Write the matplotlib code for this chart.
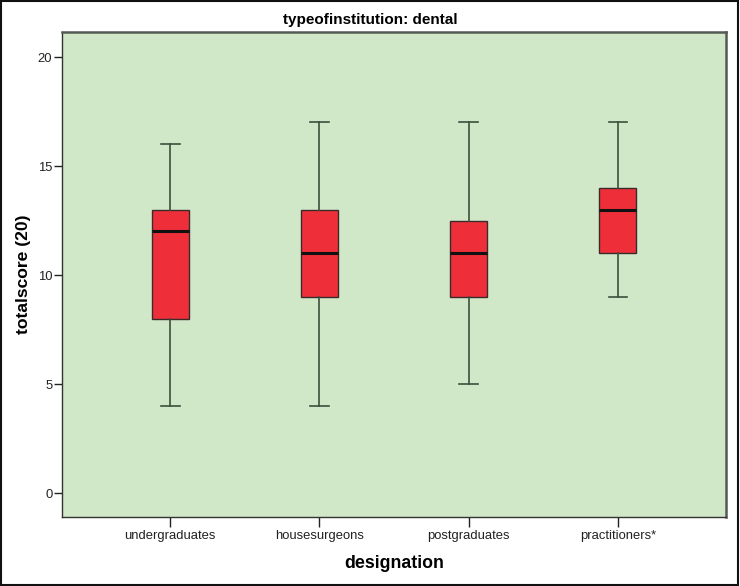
import matplotlib.pyplot as plt
from matplotlib.patches import Rectangle

plt.rcParams['font.family'] = ['Liberation Sans', 'DejaVu Sans']

# box summaries
categories = ['undergraduates', 'housesurgeons', 'postgraduates', 'practitioners*']
whislo = [4, 4, 5, 9]
q1 = [8, 9, 9, 11]
med = [12, 11, 11, 13]
q3 = [13, 13, 12.5, 14]
whishi = [16, 17, 17, 17]
yticks = [0, 5, 10, 15, 20]

stats = []
for i, name in enumerate(categories):
    stats.append({'label': name, 'whislo': whislo[i], 'q1': q1[i], 'med': med[i],
                  'q3': q3[i], 'whishi': whishi[i], 'fliers': []})

fig = plt.figure(figsize=(7.4, 5.86), dpi=100)
ax = fig.add_axes([0.0838, 0.1177, 0.8973, 0.8277])
ax.set_facecolor('#d0e7c8')

ax.bxp(stats, positions=[1, 2, 3, 4], widths=0.25, patch_artist=True,
       boxprops=dict(facecolor='#ee2f3a', edgecolor='#3a2a2a', linewidth=1.0),
       medianprops=dict(color='#111111', linewidth=2.2),
       whiskerprops=dict(color='#3d4f3d', linewidth=1.2),
       capprops=dict(color='#3d4f3d', linewidth=1.2))

ax.set_xlim(0.275, 4.725)
ax.set_ylim(-1.1, 21.15)
ax.set_yticks(yticks)
ax.set_xticks([1, 2, 3, 4])
ax.set_xticklabels(categories, fontsize=9.4, color='#222222')
ax.tick_params(axis='y', labelsize=9.4, length=6, width=1, colors='#222222', pad=1)
ax.tick_params(axis='x', length=7, width=1, colors='#222222', pad=2)

for s in ['left', 'bottom']:
    ax.spines[s].set_color('#333333')
    ax.spines[s].set_linewidth(1.0)
for s in ['top', 'right']:
    ax.spines[s].set_color('#555a55')
    ax.spines[s].set_linewidth(1.8)

ax.set_xlabel('designation', fontsize=12.8, fontweight='bold', labelpad=10)
ax.set_ylabel('totalscore (20)', fontsize=12.6, fontweight='bold', labelpad=5)
fig.text(0.5, 0.966, 'typeofinstitution: dental', ha='center', va='center',
         fontsize=11, fontweight='bold')

# outer frame around the whole picture
fig.patches.append(Rectangle((0.002, 0.002), 0.995, 0.996, transform=fig.transFigure,
                             fill=False, edgecolor='#111111', linewidth=1.5))

fig.savefig('out.png', dpi=100)
